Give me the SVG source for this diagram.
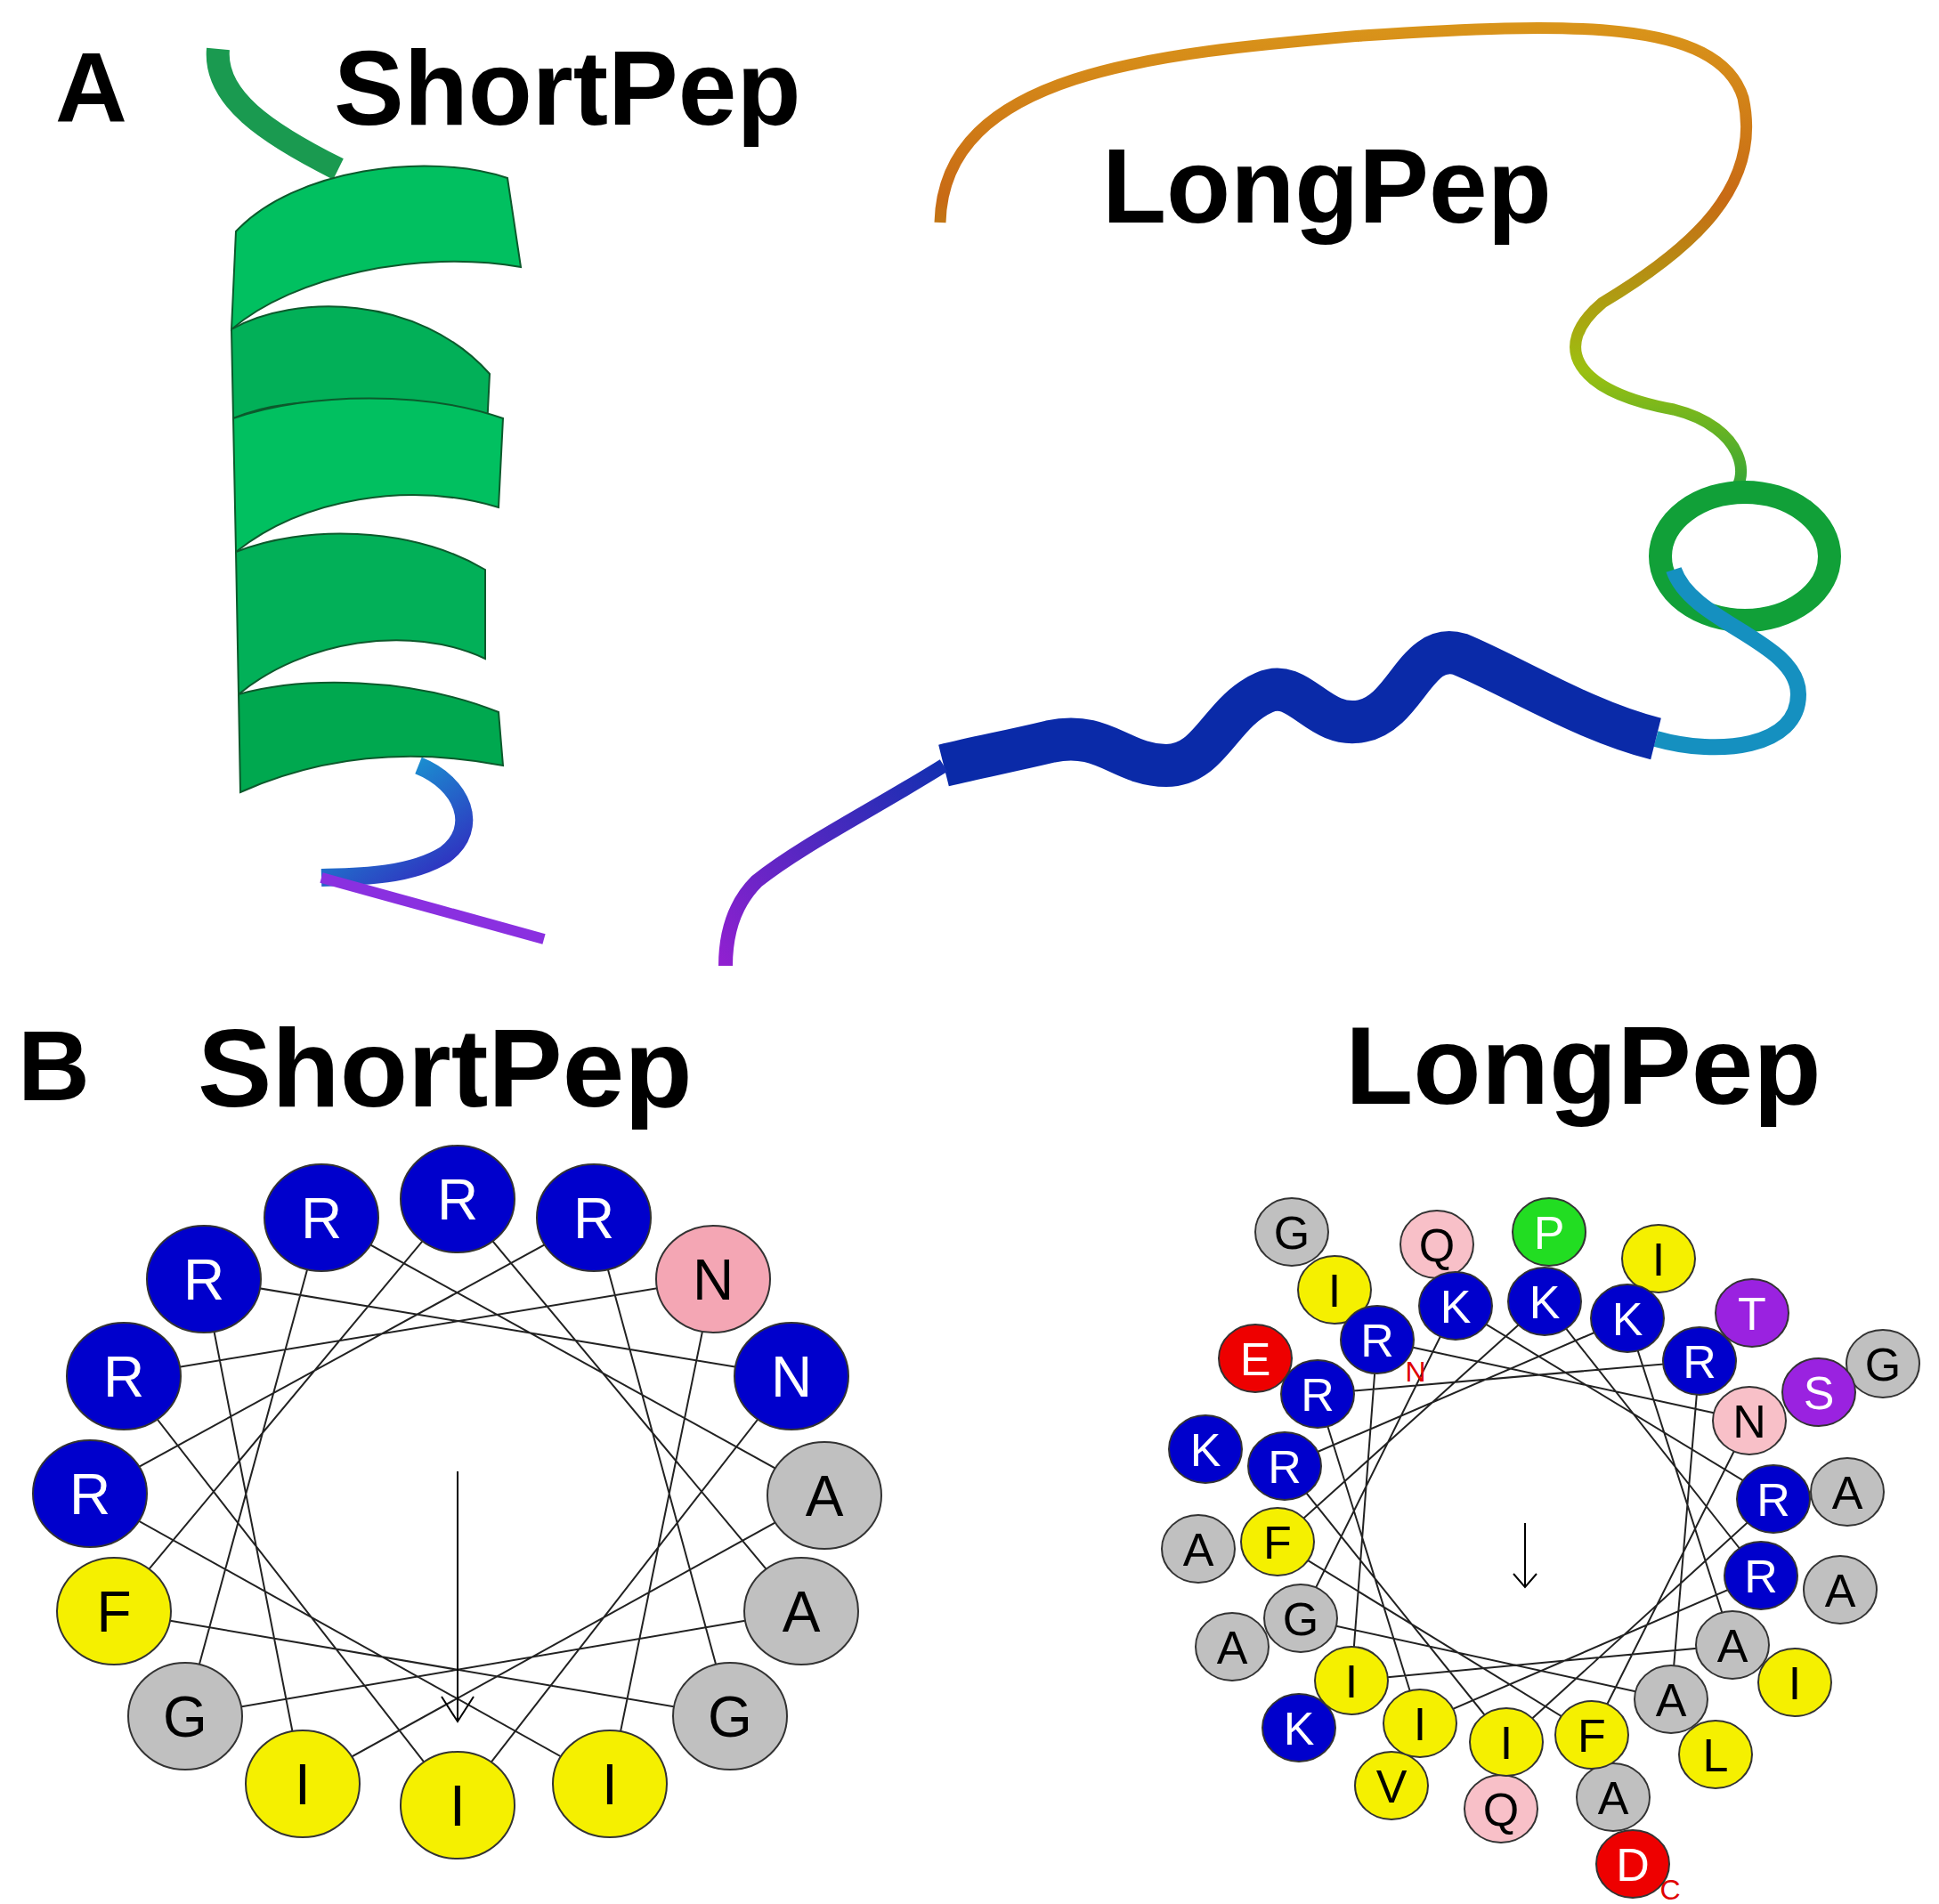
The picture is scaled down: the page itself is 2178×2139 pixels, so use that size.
<svg xmlns="http://www.w3.org/2000/svg" width="2178" height="2139" viewBox="0 0 2178 2139">
<defs>
<style>
.lbl{font-family:"Liberation Sans",Arial,sans-serif;font-weight:bold;fill:#000}
.res{font-family:"Liberation Sans",Arial,sans-serif;text-anchor:middle}
.c{stroke:#333;stroke-width:2}
.ln{fill:none;stroke:#222;stroke-width:2}
</style>
<linearGradient id="coil" gradientUnits="userSpaceOnUse" x1="0" y1="30" x2="0" y2="580">
<stop offset="0" stop-color="#d9941a"/><stop offset="0.35" stop-color="#c86a15"/><stop offset="0.7" stop-color="#9cc010"/><stop offset="1" stop-color="#1aa040"/></linearGradient>
<linearGradient id="tailL" gradientUnits="userSpaceOnUse" x1="1060" y1="850" x2="815" y2="1085">
<stop offset="0" stop-color="#1030b0"/><stop offset="1" stop-color="#9020d0"/></linearGradient>
<linearGradient id="tailS" gradientUnits="userSpaceOnUse" x1="470" y1="850" x2="611" y2="1055">
<stop offset="0" stop-color="#1a90d0"/><stop offset="0.5" stop-color="#3030c0"/><stop offset="1" stop-color="#8a30e0"/></linearGradient>
</defs>
<rect width="2178" height="2139" fill="#fff"/>
<g id="labels">
<text class="lbl" x="62" y="137" font-size="112">A</text>
<text class="lbl" x="375" y="140" font-size="118">ShortPep</text>
<text class="lbl" x="1238" y="250" font-size="118">LongPep</text>
<text class="lbl" x="20" y="1236" font-size="112">B</text>
<text class="lbl" x="222" y="1243" font-size="125">ShortPep</text>
<text class="lbl" x="1511" y="1240" font-size="125">LongPep</text>
</g>
<g id="shortpep-ribbon">
<path d="M245,55 C240,110 300,150 380,190" fill="none" stroke="#1a9a50" stroke-width="26"/>
<path d="M470,860 C520,880 540,930 500,960 C460,985 400,985 361,986" fill="none" stroke="url(#tailS)" stroke-width="20"/>
<path d="M361,986 L611,1055" stroke="#8a30e0" stroke-width="12"/>
<g stroke="#0c5a2c" stroke-width="2">
<path d="M265,260 C330,190 480,170 570,200 L585,300 C470,280 330,310 260,370 Z" fill="#01c060"/>
<path d="M260,370 C330,330 470,330 550,420 L545,520 C470,440 330,440 262,470 Z" fill="#02b058"/>
<path d="M262,470 C350,440 480,440 565,470 L560,570 C460,540 340,560 265,620 Z" fill="#01c060"/>
<path d="M265,620 C340,590 460,590 545,640 L545,740 C460,700 340,720 268,780 Z" fill="#02b058"/>
<path d="M268,780 C340,760 460,760 560,800 L565,860 C460,840 360,850 270,890 Z" fill="#00a84f"/>
</g>
</g>
<g id="longpep-ribbon">
<path d="M1056,250 C1060,80 1300,60 1530,40 C1760,25 1930,20 1958,110 C1980,210 1900,280 1800,340 C1740,390 1770,440 1880,460 C1960,480 1970,540 1940,560" fill="none" stroke="url(#coil)" stroke-width="13"/>
<ellipse cx="1960" cy="625" rx="95" ry="72" fill="none" stroke="#11a038" stroke-width="26"/>
<path d="M1880,640 C1900,700 2020,720 2020,780 C2020,840 1930,850 1860,830" fill="none" stroke="#1590c0" stroke-width="18"/>
<path d="M1860,830 C1780,810 1700,760 1640,735 C1590,720 1580,800 1530,810 C1480,820 1460,760 1420,778 C1370,800 1360,860 1310,860 C1260,860 1240,820 1180,833 C1130,845 1100,850 1060,860" fill="none" stroke="#0a2aa8" stroke-width="48"/>
<path d="M1060,860 C980,910 900,950 850,990 C820,1020 815,1060 815,1085" fill="none" stroke="url(#tailL)" stroke-width="16"/>
</g>
<g id="connectors">
<polyline class="ln" points="229,1437 889,1546 514,2028 139,1546 801,1437 685,2004 101,1678 667,1368 820,1928 128,1810 514,1347 900,1810 208,1928 361,1368 926,1680 340,2004 229,1437"/>
<line x1="514" y1="1653" x2="514" y2="1934" stroke="#000" stroke-width="2"/>
<path d="M496,1906 L514,1934 L532,1906" fill="none" stroke="#000" stroke-width="2"/>
<polyline class="ln" points="1547,1505 1965,1596 1788,1949 1435,1732 1735,1462 1978,1770 1595,1936 1480,1566 1909,1529 1877,1909 1461,1818 1635,1467 1992,1684 1692,1957 1443,1647 1828,1481 1946,1848 1518,1888 1547,1505"/>
<line x1="1713" y1="1711" x2="1713" y2="1783" stroke="#000" stroke-width="2"/>
<path d="M1700,1768 L1713,1783 L1726,1768" fill="none" stroke="#000" stroke-width="2"/>
</g>
<g id="short-wheel" font-size="64">
<g id="s1"><ellipse class="c" cx="229" cy="1437" rx="64" ry="60" fill="#0000cc"/><text class="res" x="229" y="1460" fill="#fff">R</text></g>
<g id="s2"><ellipse class="c" cx="361" cy="1368" rx="64" ry="60" fill="#0000cc"/><text class="res" x="361" y="1391" fill="#fff">R</text></g>
<g id="s3"><ellipse class="c" cx="514" cy="1347" rx="64" ry="60" fill="#0000cc"/><text class="res" x="514" y="1370" fill="#fff">R</text></g>
<g id="s4"><ellipse class="c" cx="667" cy="1368" rx="64" ry="60" fill="#0000cc"/><text class="res" x="667" y="1391" fill="#fff">R</text></g>
<g id="s5"><ellipse class="c" cx="801" cy="1437" rx="64" ry="60" fill="#f4a6b4"/><text class="res" x="801" y="1460" fill="#000">N</text></g>
<g id="s6"><ellipse class="c" cx="889" cy="1546" rx="64" ry="60" fill="#0000cc"/><text class="res" x="889" y="1569" fill="#fff">N</text></g>
<g id="s7"><ellipse class="c" cx="926" cy="1680" rx="64" ry="60" fill="#c0c0c0"/><text class="res" x="926" y="1703" fill="#000">A</text></g>
<g id="s8"><ellipse class="c" cx="900" cy="1810" rx="64" ry="60" fill="#c0c0c0"/><text class="res" x="900" y="1833" fill="#000">A</text></g>
<g id="s9"><ellipse class="c" cx="820" cy="1928" rx="64" ry="60" fill="#c0c0c0"/><text class="res" x="820" y="1951" fill="#000">G</text></g>
<g id="s10"><ellipse class="c" cx="685" cy="2004" rx="64" ry="60" fill="#f5f000"/><text class="res" x="685" y="2027" fill="#000">I</text></g>
<g id="s11"><ellipse class="c" cx="514" cy="2028" rx="64" ry="60" fill="#f5f000"/><text class="res" x="514" y="2051" fill="#000">I</text></g>
<g id="s12"><ellipse class="c" cx="340" cy="2004" rx="64" ry="60" fill="#f5f000"/><text class="res" x="340" y="2027" fill="#000">I</text></g>
<g id="s13"><ellipse class="c" cx="208" cy="1928" rx="64" ry="60" fill="#c0c0c0"/><text class="res" x="208" y="1951" fill="#000">G</text></g>
<g id="s14"><ellipse class="c" cx="128" cy="1810" rx="64" ry="60" fill="#f5f000"/><text class="res" x="128" y="1833" fill="#000">F</text></g>
<g id="s15"><ellipse class="c" cx="101" cy="1678" rx="64" ry="60" fill="#0000cc"/><text class="res" x="101" y="1701" fill="#fff">R</text></g>
<g id="s16"><ellipse class="c" cx="139" cy="1546" rx="64" ry="60" fill="#0000cc"/><text class="res" x="139" y="1569" fill="#fff">R</text></g>
</g>
<g id="long-wheel" font-size="52">
<g><ellipse class="c" cx="1451" cy="1384" rx="41" ry="38" fill="#c0c0c0"/><text class="res" x="1451" y="1403">G</text></g>
<g><ellipse class="c" cx="1614" cy="1398" rx="41" ry="38" fill="#f8c0c8"/><text class="res" x="1614" y="1417">Q</text></g>
<g><ellipse class="c" cx="1740" cy="1384" rx="41" ry="38" fill="#22dd22"/><text class="res" x="1740" y="1403" fill="#fff">P</text></g>
<g><ellipse class="c" cx="1863" cy="1414" rx="41" ry="38" fill="#f5f000"/><text class="res" x="1863" y="1433">I</text></g>
<g><ellipse class="c" cx="1499" cy="1449" rx="41" ry="38" fill="#f5f000"/><text class="res" x="1499" y="1468">I</text></g>
<g><ellipse class="c" cx="1968" cy="1475" rx="41" ry="38" fill="#9a22e0"/><text class="res" x="1968" y="1494" fill="#fff">T</text></g>
<g><ellipse class="c" cx="1410" cy="1526" rx="41" ry="38" fill="#ee0000"/><text class="res" x="1410" y="1545" fill="#fff">E</text></g>
<g><ellipse class="c" cx="2115" cy="1532" rx="41" ry="38" fill="#c0c0c0"/><text class="res" x="2115" y="1551">G</text></g>
<g><ellipse class="c" cx="2043" cy="1564" rx="41" ry="38" fill="#9a22e0"/><text class="res" x="2043" y="1583" fill="#fff">S</text></g>
<g><ellipse class="c" cx="1354" cy="1628" rx="41" ry="38" fill="#0000cc"/><text class="res" x="1354" y="1647" fill="#fff">K</text></g>
<g><ellipse class="c" cx="2075" cy="1676" rx="41" ry="38" fill="#c0c0c0"/><text class="res" x="2075" y="1695">A</text></g>
<g><ellipse class="c" cx="1346" cy="1740" rx="41" ry="38" fill="#c0c0c0"/><text class="res" x="1346" y="1759">A</text></g>
<g><ellipse class="c" cx="2067" cy="1786" rx="41" ry="38" fill="#c0c0c0"/><text class="res" x="2067" y="1805">A</text></g>
<g><ellipse class="c" cx="1384" cy="1850" rx="41" ry="38" fill="#c0c0c0"/><text class="res" x="1384" y="1869">A</text></g>
<g><ellipse class="c" cx="2016" cy="1890" rx="41" ry="38" fill="#f5f000"/><text class="res" x="2016" y="1909">I</text></g>
<g><ellipse class="c" cx="1459" cy="1941" rx="41" ry="38" fill="#0000cc"/><text class="res" x="1459" y="1960" fill="#fff">K</text></g>
<g><ellipse class="c" cx="1927" cy="1971" rx="41" ry="38" fill="#f5f000"/><text class="res" x="1927" y="1990">L</text></g>
<g><ellipse class="c" cx="1563" cy="2006" rx="41" ry="38" fill="#f5f000"/><text class="res" x="1563" y="2025">V</text></g>
<g><ellipse class="c" cx="1686" cy="2032" rx="41" ry="38" fill="#f8c0c8"/><text class="res" x="1686" y="2051">Q</text></g>
<g><ellipse class="c" cx="1812" cy="2019" rx="41" ry="38" fill="#c0c0c0"/><text class="res" x="1812" y="2038">A</text></g>
<g><ellipse class="c" cx="1834" cy="2094" rx="41" ry="38" fill="#ee0000"/><text class="res" x="1834" y="2113" fill="#fff">D</text></g>
<g><ellipse class="c" cx="1635" cy="1467" rx="41" ry="38" fill="#0000cc"/><text class="res" x="1635" y="1486" fill="#fff">K</text></g>
<g><ellipse class="c" cx="1735" cy="1462" rx="41" ry="38" fill="#0000cc"/><text class="res" x="1735" y="1481" fill="#fff">K</text></g>
<g><ellipse class="c" cx="1828" cy="1481" rx="41" ry="38" fill="#0000cc"/><text class="res" x="1828" y="1500" fill="#fff">K</text></g>
<g><ellipse class="c" cx="1909" cy="1529" rx="41" ry="38" fill="#0000cc"/><text class="res" x="1909" y="1548" fill="#fff">R</text></g>
<g><ellipse class="c" cx="1965" cy="1596" rx="41" ry="38" fill="#f8c0c8"/><text class="res" x="1965" y="1615">N</text></g>
<g><ellipse class="c" cx="1992" cy="1684" rx="41" ry="38" fill="#0000cc"/><text class="res" x="1992" y="1703" fill="#fff">R</text></g>
<g><ellipse class="c" cx="1978" cy="1770" rx="41" ry="38" fill="#0000cc"/><text class="res" x="1978" y="1789" fill="#fff">R</text></g>
<g><ellipse class="c" cx="1946" cy="1848" rx="41" ry="38" fill="#c0c0c0"/><text class="res" x="1946" y="1867">A</text></g>
<g><ellipse class="c" cx="1877" cy="1909" rx="41" ry="38" fill="#c0c0c0"/><text class="res" x="1877" y="1928">A</text></g>
<g><ellipse class="c" cx="1788" cy="1949" rx="41" ry="38" fill="#f5f000"/><text class="res" x="1788" y="1968">F</text></g>
<g><ellipse class="c" cx="1692" cy="1957" rx="41" ry="38" fill="#f5f000"/><text class="res" x="1692" y="1976">I</text></g>
<g><ellipse class="c" cx="1595" cy="1936" rx="41" ry="38" fill="#f5f000"/><text class="res" x="1595" y="1955">I</text></g>
<g><ellipse class="c" cx="1518" cy="1888" rx="41" ry="38" fill="#f5f000"/><text class="res" x="1518" y="1907">I</text></g>
<g><ellipse class="c" cx="1461" cy="1818" rx="41" ry="38" fill="#c0c0c0"/><text class="res" x="1461" y="1837">G</text></g>
<g><ellipse class="c" cx="1435" cy="1732" rx="41" ry="38" fill="#f5f000"/><text class="res" x="1435" y="1751">F</text></g>
<g><ellipse class="c" cx="1443" cy="1647" rx="41" ry="38" fill="#0000cc"/><text class="res" x="1443" y="1666" fill="#fff">R</text></g>
<g><ellipse class="c" cx="1480" cy="1566" rx="41" ry="38" fill="#0000cc"/><text class="res" x="1480" y="1585" fill="#fff">R</text></g>
<g><ellipse class="c" cx="1547" cy="1505" rx="41" ry="38" fill="#0000cc"/><text class="res" x="1547" y="1524" fill="#fff">R</text></g>
<text class="res" x="1590" y="1552" font-size="32" fill="#e00000">N</text>
<text class="res" x="1876" y="2134" font-size="32" fill="#e00000">C</text>
</g>
</svg>
